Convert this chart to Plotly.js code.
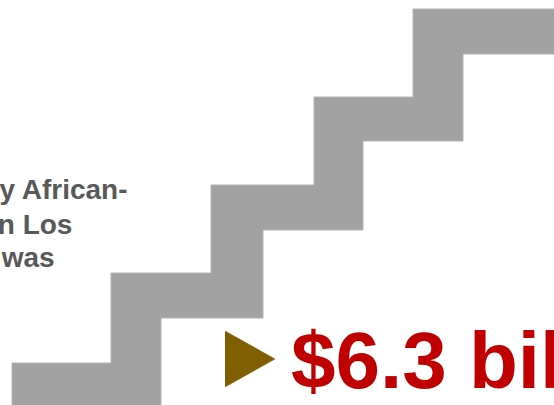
<!DOCTYPE html>
<html>
<head>
<meta charset="utf-8">
<script src="https://cdn.plot.ly/plotly-3.0.1.min.js"></script>
<style>
  html, body { margin: 0; padding: 0; background: #ffffff; }
  #chart { width: 554px; height: 405px; }
</style>
</head>
<body>
<div id="chart"></div>
<script>
// Staircase geometry (chart units: x 0..554, y 0..405 top-down)
var stepLeft   = [12, 111, 211, 314, 413];   // outer (upper-left) edge of each tread
var stepTop    = [363, 273, 185, 97, 9];     // top of each tread
var stepRight  = [161, 263, 363, 463];       // right edge of each riser
var stepBottom = [318, 230, 141, 54];        // underside of each tread
var stairStart = 410;   // bottom of the first riser
var stairEnd   = 560;   // right end of the top tread

// Marker triangle
var triX = [225, 275, 225];
var triY = [331, 359, 387];

// Text lines
var introLines = ["Spending by African-", "Americans in Los", "Angeles was"];
var introRight = [130, 74, 57];
var introMid   = [189, 224, 257];
var valueText  = "$6.3 billion";

// build staircase polygon from the step arrays
var sx = [stepLeft[0]], sy = [stairStart];
for (var i = 0; i < stepLeft.length; i++) {
  sx.push(stepLeft[i]); sy.push(stepTop[i]);
  var nextX = (i + 1 < stepLeft.length) ? stepLeft[i + 1] : stairEnd;
  sx.push(nextX); sy.push(stepTop[i]);
}
sx.push(stairEnd); sy.push(stepBottom[stepBottom.length - 1]);
for (var j = stepRight.length - 1; j >= 0; j--) {
  sx.push(stepRight[j]); sy.push(stepBottom[j]);
  var belowY = (j > 0) ? stepBottom[j - 1] : stairStart;
  sx.push(stepRight[j]); sy.push(belowY);
}

var traces = [
  {
    type: 'scatter', mode: 'lines', x: sx, y: sy,
    fill: 'toself', fillcolor: '#a2a2a2',
    line: { color: '#b4b4b4', width: 1 },
    hoverinfo: 'skip', showlegend: false
  },
  {
    type: 'scatter', mode: 'lines', x: triX, y: triY,
    fill: 'toself', fillcolor: '#7f5f00',
    line: { color: '#7f5f00', width: 0.5 },
    hoverinfo: 'skip', showlegend: false
  }
];

var annotations = [];
for (var k = 0; k < introLines.length; k++) {
  annotations.push({
    x: introRight[k], y: introMid[k], xref: 'x', yref: 'y',
    xanchor: 'right', yanchor: 'middle', showarrow: false,
    text: '<b>' + introLines[k] + '</b>',
    font: { family: 'Liberation Sans, Arial, sans-serif', size: 28, color: '#595959' }
  });
}
annotations.push({
  x: 289, y: 360, xref: 'x', yref: 'y',
  xanchor: 'left', yanchor: 'middle', showarrow: false,
  text: '<b>' + valueText + '</b>',
  font: { family: 'Liberation Sans, Arial, sans-serif', size: 80, color: '#c00000' }
});

var layout = {
  width: 554, height: 405,
  margin: { l: 0, r: 0, t: 0, b: 0 },
  paper_bgcolor: '#ffffff', plot_bgcolor: '#ffffff',
  xaxis: { range: [0, 554], visible: false, fixedrange: true },
  yaxis: { range: [405, 0], visible: false, fixedrange: true },
  annotations: annotations,
  showlegend: false
};

Plotly.newPlot('chart', traces, layout, { displayModeBar: false, staticPlot: true });
</script>
</body>
</html>
